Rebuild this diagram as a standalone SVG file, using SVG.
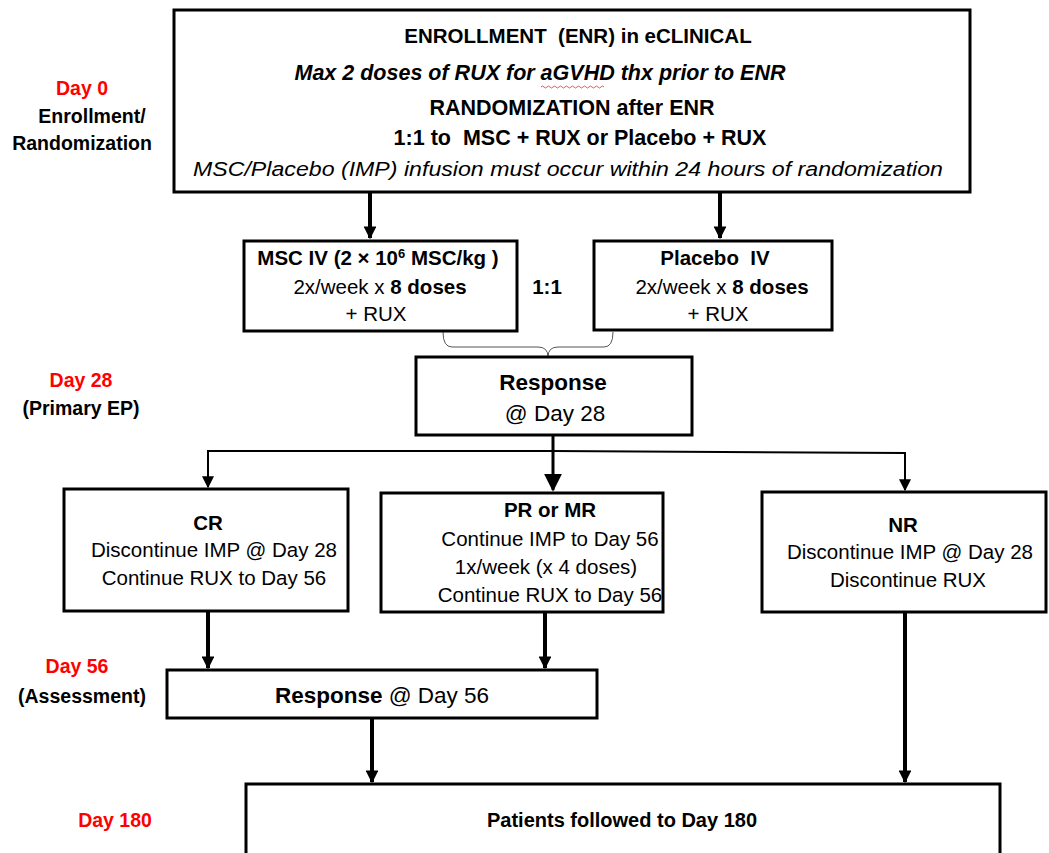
<svg xmlns="http://www.w3.org/2000/svg" width="1049" height="853" viewBox="0 0 1049 853">
<style>
.box{fill:#fff;stroke:#000;stroke-width:3}
.t{font-family:"Liberation Sans",Arial,sans-serif;fill:#000;text-anchor:middle}
.b{font-weight:bold}
.i{font-style:italic}
.red{fill:#ff0000}
.lbl{font-size:19.5px;font-weight:bold}
.body{font-size:20.5px}
.c{stroke:#000;fill:none}
</style>
<defs>
<marker id="ah" viewBox="0 0 10 10" refX="9" refY="5" markerWidth="3.2" markerHeight="3.2" orient="auto" markerUnits="strokeWidth">
<path d="M0,0 L10,5 L0,10 z" fill="#000"/>
</marker>
<marker id="ah2" viewBox="0 0 10 10" refX="9" refY="5" markerWidth="6" markerHeight="6" orient="auto" markerUnits="strokeWidth">
<path d="M0,0 L10,5 L0,10 z" fill="#000"/>
</marker>
</defs>

<g id="labels">
<text class="t lbl red" x="82" y="95">Day 0</text>
<text class="t lbl" x="92" y="123">Enrollment/</text>
<text class="t lbl" x="82" y="150">Randomization</text>
<text class="t lbl red" x="81" y="387">Day 28</text>
<text class="t lbl" x="81" y="415">(Primary EP)</text>
<text class="t lbl red" x="77" y="673">Day 56</text>
<text class="t lbl" x="82" y="703">(Assessment)</text>
<text class="t lbl red" x="115" y="827">Day 180</text>
</g>

<g id="connectors">
<line class="c" x1="370" y1="192" x2="370" y2="238" stroke-width="4" marker-end="url(#ah)"/>
<line class="c" x1="720" y1="192" x2="720" y2="238" stroke-width="4" marker-end="url(#ah)"/>
<path d="M443,332 Q443,347 452,347 L538,347 Q548,347 548,357 Q548,347 558,347 L604,347 Q613,347 613,332" fill="none" stroke="#555" stroke-width="1"/>
<line class="c" x1="553" y1="435" x2="553" y2="490" stroke-width="3" marker-end="url(#ah2)"/>
<polyline class="c" points="208,486 208,451 553,451 905,453 905,490" stroke-width="2"/>
<line class="c" x1="208" y1="470" x2="208" y2="487" stroke-width="2" marker-end="url(#ah2)"/>
<line class="c" x1="905" y1="470" x2="905" y2="490" stroke-width="2" marker-end="url(#ah2)"/>
<line class="c" x1="208" y1="611" x2="208" y2="668" stroke-width="4" marker-end="url(#ah)"/>
<line class="c" x1="545" y1="612" x2="545" y2="668" stroke-width="4" marker-end="url(#ah)"/>
<line class="c" x1="372" y1="718" x2="372" y2="782" stroke-width="4" marker-end="url(#ah)"/>
<line class="c" x1="905" y1="612" x2="905" y2="782" stroke-width="4" marker-end="url(#ah)"/>
</g>

<g id="enrollment">
<rect class="box" x="174" y="10" width="796" height="182"/>
<text class="t b" x="578" y="43" font-size="20.5">ENROLLMENT &#160;(ENR) in eCLINICAL</text>
<text class="t b i" x="540" y="80" font-size="21.5">Max 2 doses of RUX for aGVHD thx prior to ENR</text>
<path d="M541,87 q1.5,-2 3,0 t3,0 t3,0 t3,0 t3,0 t3,0 t3,0 t3,0 t3,0 t3,0 t3,0 t3,0 t3,0 t3,0 t3,0 t3,0 t3,0 t3,0 t3,0 t3,0 t3,0" fill="none" stroke="#e03030" stroke-width="0.8"/>
<text class="t b" x="572" y="115" font-size="21.5">RANDOMIZATION after ENR</text>
<text class="t b" x="580" y="145" font-size="21.5">1:1 to &#160;MSC + RUX or Placebo + RUX</text>
<text class="t i" x="568" y="176" font-size="20.5" textLength="750" lengthAdjust="spacingAndGlyphs">MSC/Placebo (IMP) infusion must occur within 24 hours of randomization</text>
</g>

<g id="msc">
<rect class="box" x="244" y="241" width="273" height="90"/>
<text class="t b body" x="378" y="265">MSC IV (2 × 10<tspan font-size="13" dy="-7">6</tspan><tspan dy="7"> MSC/kg )</tspan></text>
<text class="t body" x="380" y="294">2x/week x <tspan class="b">8 doses</tspan></text>
<text class="t body" x="376" y="321">+ RUX</text>
</g>

<g id="ratio">
<text class="t b body" x="547" y="294">1:1</text>
</g>

<g id="placebo">
<rect class="box" x="594" y="241" width="238" height="89"/>
<text class="t b body" x="715" y="265">Placebo &#160;IV</text>
<text class="t body" x="722" y="294">2x/week x <tspan class="b">8 doses</tspan></text>
<text class="t body" x="718" y="321">+ RUX</text>
</g>

<g id="response28">
<rect class="box" x="416" y="357" width="276" height="78"/>
<text class="t b" x="553" y="390" font-size="22.5">Response</text>
<text class="t" x="555" y="421" font-size="22.5">@ Day 28</text>
</g>

<g id="cr">
<rect class="box" x="64" y="489" width="284" height="122"/>
<text class="t b body" x="208" y="530">CR</text>
<text class="t body" x="214" y="557">Discontinue IMP @ Day 28</text>
<text class="t body" x="214" y="585">Continue RUX to Day 56</text>
</g>

<g id="prmr">
<rect class="box" x="381" y="493" width="282" height="119"/>
<text class="t b body" x="550" y="517">PR or MR</text>
<text class="t body" x="550" y="546">Continue IMP to Day 56</text>
<text class="t body" x="546" y="574">1x/week (x 4 doses)</text>
<text class="t body" x="550" y="602">Continue RUX to Day 56</text>
</g>

<g id="nr">
<rect class="box" x="762" y="492" width="284" height="120"/>
<text class="t b body" x="903" y="532">NR</text>
<text class="t body" x="910" y="559">Discontinue IMP @ Day 28</text>
<text class="t body" x="908" y="587">Discontinue RUX</text>
</g>

<g id="response56">
<rect class="box" x="167" y="670" width="430" height="48"/>
<text class="t" x="382" y="703" font-size="22.5"><tspan class="b">Response</tspan> @ Day 56</text>
</g>

<g id="followup">
<rect class="box" x="246" y="784" width="754" height="80"/>
<text class="t b" x="622" y="827" font-size="20">Patients followed to Day 180</text>
</g>
</svg>
